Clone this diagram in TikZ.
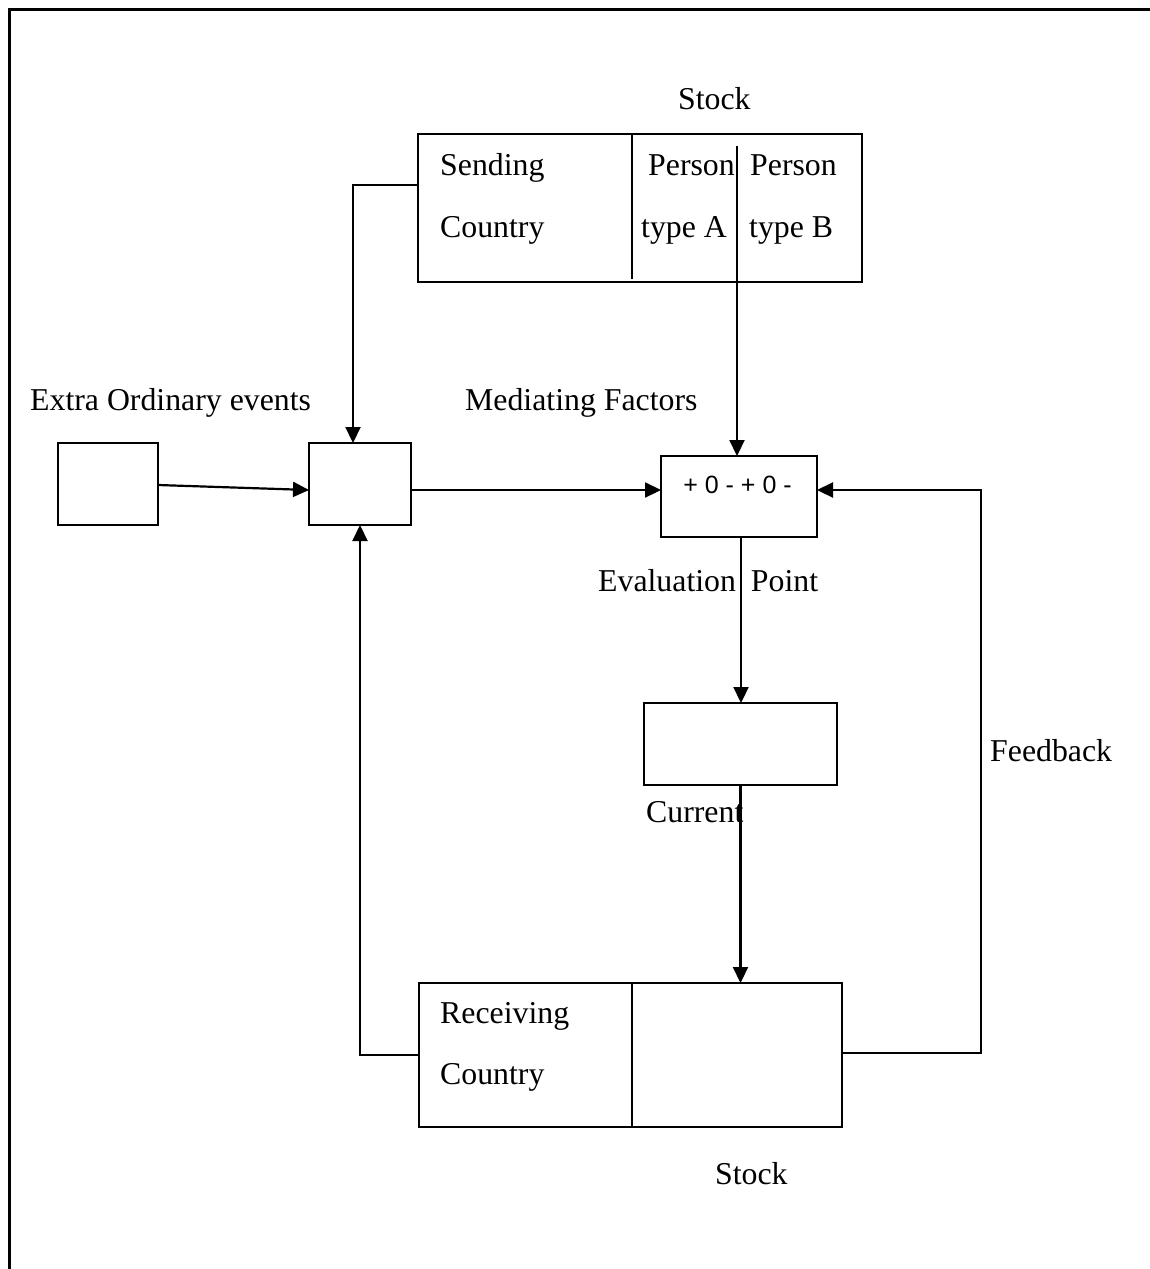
\documentclass[tikz,border=0pt]{standalone}
\usepackage{fontspec}
\setmainfont{Liberation Serif}
\newfontfamily\sansf{Liberation Sans}
\usetikzlibrary{arrows.meta}
\begin{document}
\begin{tikzpicture}[x=1pt,y=-1pt,
  box/.style={draw, line width=2.2pt, inner sep=0pt, outer sep=0pt},
  lbl/.style={anchor=base west, inner sep=0pt, font=\fontsize{31.8pt}{38pt}\selectfont},
  arr/.style={line width=2.2pt, -{Triangle[length=16pt,width=15pt]}},
  ln/.style={line width=2.2pt}]
\useasboundingbox (0,0) rectangle (1150,1269);
\draw[line width=2.8pt] (9.3,1269) -- (9.3,9.3) -- (1150,9.3);

% boxes
\node[box, minimum width=444pt, minimum height=148pt] (send) at (640,208) {};
\node[box, minimum width=100pt, minimum height=82pt] (extra) at (108,484) {};
\node[box, minimum width=102pt, minimum height=82pt] (med) at (360,484) {};
\node[box, minimum width=156pt, minimum height=81pt] (eval) at (739,496.5) {};
\node[box, minimum width=193pt, minimum height=82pt] (cur) at (740.5,744) {};
\node[box, minimum width=423pt, minimum height=144pt] (recv) at (630.5,1055) {};

% dividers
\coordinate (d1) at (632,134);
\draw[ln] (d1) -- (632,279);
\coordinate (d2) at (737,146);
\draw[ln] (d2) -- (d2 |- send.south);
\draw[ln] (recv.north -| d1) -- (recv.south -| d1);

% labels
\node[lbl] (stocktop) at (678,109) {Stock};
\node[lbl] (sending) at (440,175) {Sending};
\node[lbl] (country1) at (440,237) {Country};
\node[lbl] (persA) at (648,175) {Person};
\node[lbl] (typeA) at (641,237) {type A};
\node[lbl] (persB) at (750,175) {Person};
\node[lbl] (typeB) at (749,237) {type B};
\node[lbl] (extralbl) at (30,410) {Extra Ordinary events};
\node[lbl] (medlbl) at (465,410) {Mediating Factors};
\node[anchor=base, inner sep=0pt, font=\sansf\fontsize{25pt}{30pt}\selectfont] (evaltxt) at (737.5,493) {+ 0 - + 0 -};
\node[lbl] (evallbl) at (598,591) {Evaluation\hspace{15pt}Point};
\node[lbl] (curlbl) at (646,822) {Current};
\node[lbl] (fblbl) at (990,761) {Feedback};
\node[lbl] (receiving) at (440,1023) {Receiving};
\node[lbl] (country2) at (440,1084) {Country};
\node[lbl] (stockbot) at (715,1184) {Stock};

% connectors
\draw[arr] ([yshift=23pt]send.west) -| ([xshift=-7pt]med.north);
\draw[arr] (d2 |- send.south) -- (d2 |- eval.north);
\draw[arr] ([yshift=-1pt]extra.east) -- ([yshift=-6pt]med.west);
\draw[arr] ([yshift=-6pt]med.east) -- ([yshift=-6pt]med.east -| eval.west);
\draw[arr] ([xshift=2pt]eval.south) -- ([xshift=2pt]eval.south |- cur.north);
\draw[arr] (cur.south) -- (cur.south |- recv.north);
\coordinate (fbtop) at (981,490);
\draw[arr] ([yshift=2pt]recv.east) -| (fbtop) -- (fbtop -| eval.east);
\draw[arr] (recv.west) -| (med.south);
\end{tikzpicture}
\end{document}
